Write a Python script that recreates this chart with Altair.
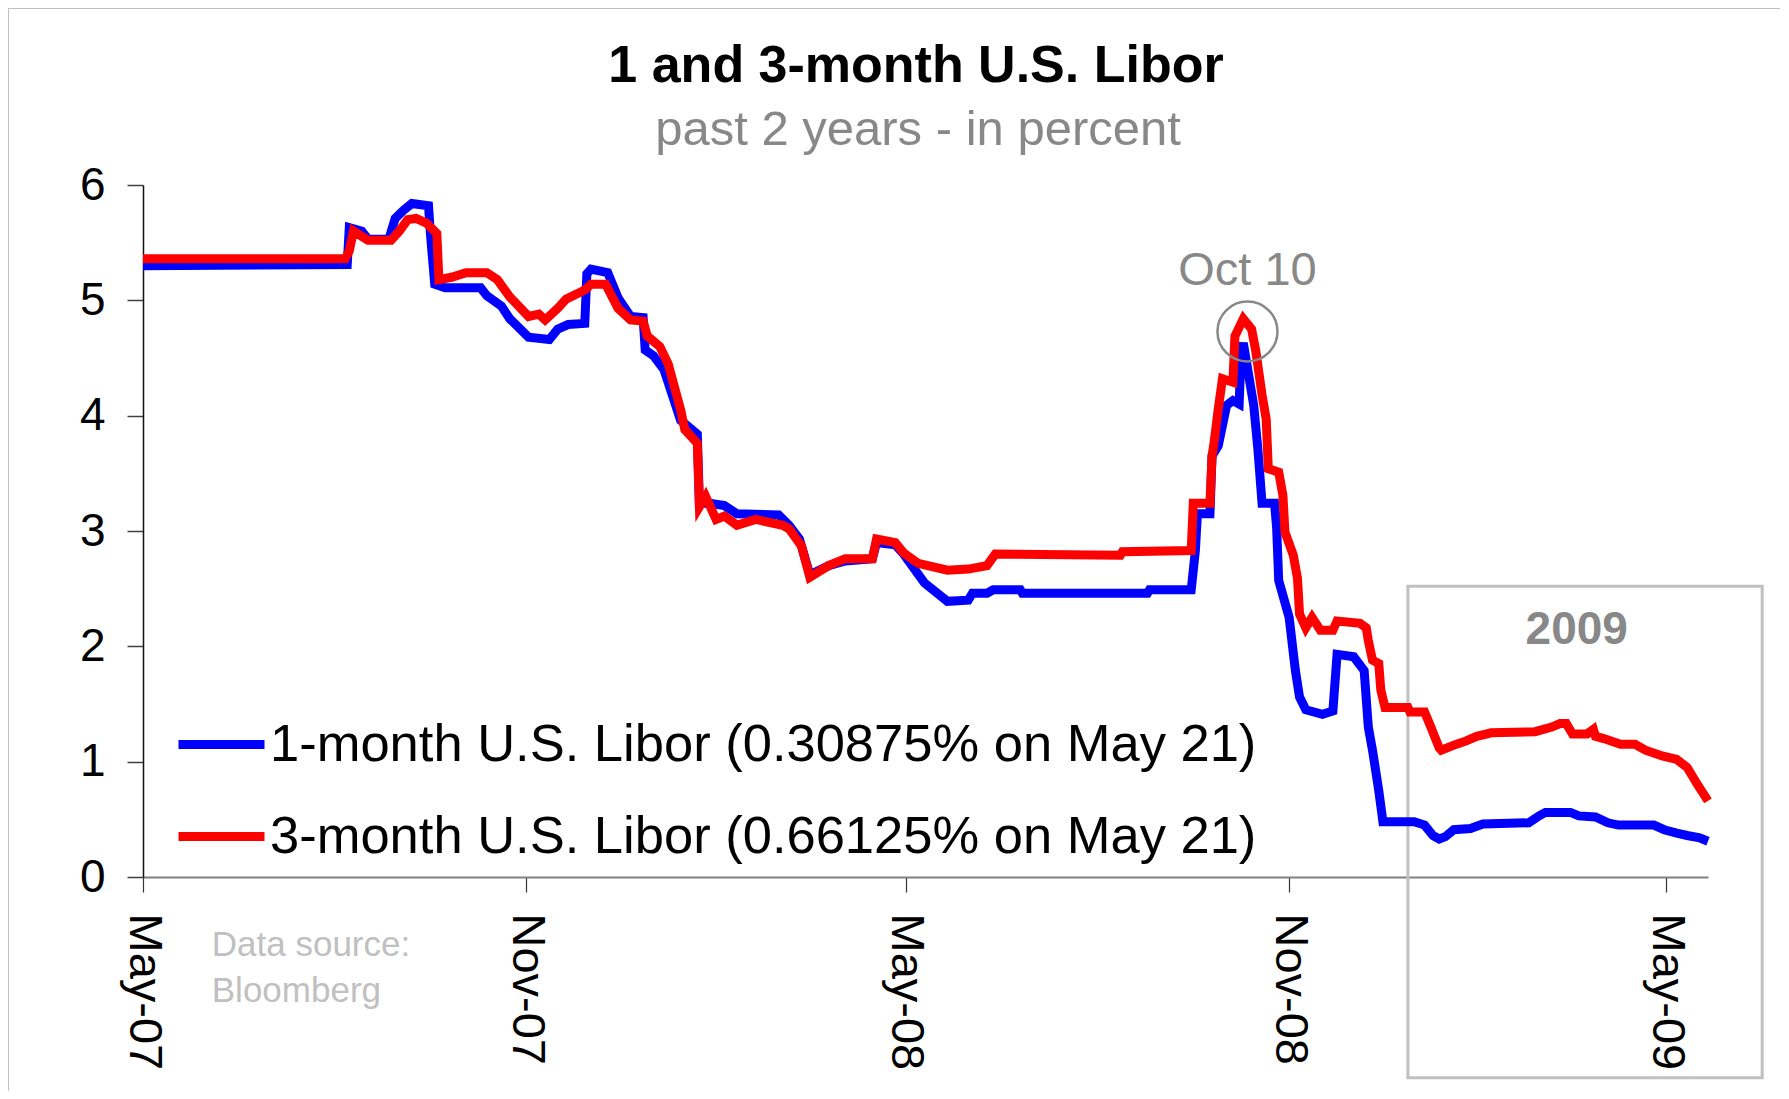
import altair as alt
import pandas as pd

# ---------------- data ----------------
SERIES_NAMES = [
    "1-month U.S. Libor (0.30875% on May 21)",
    "3-month U.S. Libor (0.66125% on May 21)",
]
SERIES_COLORS = ["#0000FF", "#FF0000"]

ONE_M_DATES = [
    "2007-05-01", "2007-08-07", "2007-08-08", "2007-08-14", "2007-08-17", "2007-08-27",
    "2007-08-30", "2007-09-03", "2007-09-07", "2007-09-15", "2007-09-16", "2007-09-18",
    "2007-09-23", "2007-10-10", "2007-10-13", "2007-10-20", "2007-10-24", "2007-11-02",
    "2007-11-12", "2007-11-16", "2007-11-21", "2007-11-29", "2007-11-30", "2007-12-02",
    "2007-12-10", "2007-12-15", "2007-12-21", "2007-12-27", "2007-12-28", "2008-01-01",
    "2008-01-06", "2008-01-14", "2008-01-22", "2008-01-23", "2008-01-28", "2008-02-04",
    "2008-02-10", "2008-03-01", "2008-03-06", "2008-03-11", "2008-03-16", "2008-03-25",
    "2008-04-02", "2008-04-15", "2008-04-17", "2008-04-26", "2008-04-30", "2008-05-10",
    "2008-05-21", "2008-05-31", "2008-06-02", "2008-06-09", "2008-06-12", "2008-06-25",
    "2008-06-26", "2008-08-25", "2008-08-26", "2008-09-15", "2008-09-17", "2008-09-18",
    "2008-09-24", "2008-09-25", "2008-09-28", "2008-10-02", "2008-10-05", "2008-10-08",
    "2008-10-09", "2008-10-10", "2008-10-15", "2008-10-17", "2008-10-19", "2008-10-25",
    "2008-10-26", "2008-10-27", "2008-11-01", "2008-11-04", "2008-11-06", "2008-11-09",
    "2008-11-17", "2008-11-22", "2008-11-24", "2008-12-02", "2008-12-07", "2008-12-09",
    "2008-12-11", "2008-12-14", "2008-12-16", "2008-12-31", "2009-01-05", "2009-01-09",
    "2009-01-12", "2009-01-15", "2009-01-19", "2009-01-27", "2009-02-02", "2009-02-24",
    "2009-03-01", "2009-03-04", "2009-03-16", "2009-03-20", "2009-03-28", "2009-04-03",
    "2009-04-08", "2009-04-25", "2009-04-30", "2009-05-06", "2009-05-11", "2009-05-17",
    "2009-05-21",
]
ONE_M_VALUES = [
    5.30, 5.31, 5.63, 5.60, 5.53, 5.53,
    5.71, 5.78, 5.84, 5.82, 5.56, 5.14,
    5.11, 5.11, 5.04, 4.95, 4.84, 4.68,
    4.66, 4.75, 4.79, 4.80, 5.23, 5.27,
    5.24, 5.02, 4.86, 4.85, 4.57, 4.52,
    4.40, 3.96, 3.84, 3.24, 3.24, 3.22,
    3.15, 3.14, 3.05, 2.93, 2.62, 2.70,
    2.74, 2.76, 2.90, 2.88, 2.80, 2.55,
    2.39, 2.40, 2.46, 2.46, 2.49, 2.49,
    2.46, 2.46, 2.49, 2.49, 2.83, 3.15,
    3.15, 3.65, 3.74, 4.09, 4.13, 4.10,
    4.56, 4.63, 4.09, 3.71, 3.24, 3.24,
    3.03, 2.57, 2.25, 1.79, 1.56, 1.45,
    1.41, 1.44, 1.93, 1.91, 1.79, 1.30,
    1.10, 0.75, 0.48, 0.48, 0.45, 0.36,
    0.33, 0.35, 0.41, 0.42, 0.46, 0.47,
    0.53, 0.56, 0.56, 0.53, 0.52, 0.47,
    0.45, 0.45, 0.41, 0.38, 0.36, 0.34,
    0.31,
]

THREE_M_DATES = [
    "2007-05-01", "2007-08-06", "2007-08-08", "2007-08-10", "2007-08-17", "2007-08-28",
    "2007-09-01", "2007-09-05", "2007-09-09", "2007-09-14", "2007-09-19", "2007-09-20",
    "2007-09-26", "2007-10-03", "2007-10-13", "2007-10-18", "2007-10-24", "2007-11-02",
    "2007-11-07", "2007-11-10", "2007-11-16", "2007-11-20", "2007-11-29", "2007-12-02",
    "2007-12-09", "2007-12-15", "2007-12-21", "2007-12-27", "2007-12-29", "2008-01-04",
    "2008-01-08", "2008-01-14", "2008-01-16", "2008-01-22", "2008-01-23", "2008-01-26",
    "2008-01-31", "2008-02-04", "2008-02-10", "2008-02-19", "2008-03-03", "2008-03-06",
    "2008-03-12", "2008-03-16", "2008-03-25", "2008-04-02", "2008-04-15", "2008-04-17",
    "2008-04-26", "2008-04-30", "2008-05-07", "2008-05-21", "2008-05-31", "2008-06-09",
    "2008-06-13", "2008-08-12", "2008-08-13", "2008-09-15", "2008-09-16", "2008-09-24",
    "2008-09-25", "2008-09-26", "2008-09-28", "2008-09-30", "2008-10-05", "2008-10-06",
    "2008-10-10", "2008-10-14", "2008-10-16", "2008-10-19", "2008-10-21", "2008-10-22",
    "2008-10-27", "2008-10-29", "2008-10-30", "2008-11-03", "2008-11-05", "2008-11-06",
    "2008-11-09", "2008-11-12", "2008-11-16", "2008-11-22", "2008-11-24", "2008-12-05",
    "2008-12-08", "2008-12-09", "2008-12-11", "2008-12-14", "2008-12-15", "2008-12-17",
    "2008-12-28", "2008-12-29", "2009-01-05", "2009-01-08", "2009-01-12", "2009-01-13",
    "2009-01-20", "2009-01-25", "2009-01-30", "2009-02-06", "2009-02-27", "2009-03-07",
    "2009-03-11", "2009-03-14", "2009-03-17", "2009-03-24", "2009-03-27", "2009-03-28",
    "2009-04-01", "2009-04-09", "2009-04-16", "2009-04-21", "2009-04-29", "2009-05-06",
    "2009-05-11", "2009-05-16", "2009-05-21",
]
THREE_M_VALUES = [
    5.36, 5.36, 5.43, 5.60, 5.52, 5.52,
    5.60, 5.70, 5.71, 5.67, 5.58, 5.18,
    5.20, 5.24, 5.24, 5.18, 5.03, 4.86,
    4.88, 4.83, 4.93, 5.01, 5.09, 5.14,
    5.14, 4.93, 4.83, 4.82, 4.69, 4.60,
    4.45, 4.05, 3.88, 3.76, 3.21, 3.30,
    3.10, 3.13, 3.05, 3.10, 3.05, 3.02,
    2.87, 2.60, 2.70, 2.76, 2.76, 2.93,
    2.90, 2.81, 2.72, 2.66, 2.67, 2.70,
    2.80, 2.79, 2.82, 2.83, 3.24, 3.24,
    3.65, 3.77, 4.06, 4.32, 4.29, 4.69,
    4.84, 4.75, 4.56, 4.18, 3.97, 3.54,
    3.51, 3.31, 2.99, 2.79, 2.59, 2.28,
    2.16, 2.25, 2.14, 2.14, 2.22, 2.20,
    2.16, 2.05, 1.88, 1.85, 1.62, 1.47,
    1.47, 1.43, 1.43, 1.30, 1.12, 1.10,
    1.15, 1.18, 1.22, 1.25, 1.26, 1.30,
    1.33, 1.33, 1.24, 1.24, 1.28, 1.22,
    1.20, 1.15, 1.15, 1.10, 1.05, 1.02,
    0.95, 0.80, 0.66,
]

X_DOMAIN = ["2007-05-01", "2009-05-21"]
X_TICKS = ["2007-05-01", "2007-11-01", "2008-05-01", "2008-11-01", "2009-05-01"]
Y_TICKS = [0, 1, 2, 3, 4, 5, 6]

TITLE = "1 and 3-month U.S. Libor"
SUBTITLE = "past 2 years - in percent"

# annotations
PEAK_DATE = ["2008-10-12"]
PEAK_LABEL = ["Oct 10"]
PEAK_LABEL_Y = [5.13]
PEAK_CIRCLE_Y = [4.73]
BOX_DATES = ["2008-12-28", "2009-06-16"]
BOX_VALUES = [2.52, -1.74]
BOX_LABEL = ["2009"]
BOX_LABEL_DATE = ["2009-03-19"]
BOX_LABEL_Y = [2.02]
SOURCE_TEXT = ["Data source:\nBloomberg"]
SOURCE_DATE = ["2007-06-03"]
SOURCE_Y = [-0.685]

FONT = "Liberation Sans"


def dt(s):
    y, m, d = (int(p) for p in s.split("-"))
    return alt.DateTime(year=y, month=m, date=d)


x_scale = alt.Scale(domain=[dt(X_DOMAIN[0]), dt(X_DOMAIN[1])])
y_scale = alt.Scale(domain=[0, 6], nice=False, zero=False)

one_df = pd.DataFrame({"date": pd.to_datetime(ONE_M_DATES), "value": ONE_M_VALUES,
                       "series": SERIES_NAMES[0]})
three_df = pd.DataFrame({"date": pd.to_datetime(THREE_M_DATES), "value": THREE_M_VALUES,
                         "series": SERIES_NAMES[1]})

x_axis = alt.Axis(
    values=[dt(t) for t in X_TICKS], format="%b-%y", labelAngle=90,
    labelAlign="left", labelBaseline="middle", labelFont=FONT, labelFontSize=47,
    labelColor="black", labelPadding=21, tickSize=15, tickColor="#333333",
    tickWidth=1.2, domainColor="#808080", domainWidth=2, grid=False, title=None,
    labelFlush=False, labelOverlap=False, labelBound=False,
)
y_axis = alt.Axis(
    values=Y_TICKS, format="d", labelFont=FONT, labelFontSize=46, labelColor="black",
    labelPadding=22, tickSize=16, tickColor="#404040", tickWidth=1.5,
    domainColor="#111111", domainWidth=1.5, grid=False, title=None,
)
legend = alt.Legend(
    title=None, orient="none", legendX=31, legendY=512, symbolType="stroke",
    symbolSize=7396, symbolStrokeWidth=9, labelFont=FONT, labelFontSize=52.5,
    labelColor="black", labelLimit=0, labelOffset=1, rowPadding=18, padding=0,
)
color = alt.Color("series:N", scale=alt.Scale(domain=SERIES_NAMES, range=SERIES_COLORS),
                  legend=legend)


def X(field):
    return alt.X(field, type="temporal", scale=x_scale, axis=x_axis)


def Y(field):
    return alt.Y(field, type="quantitative", scale=y_scale, axis=y_axis)


blue = alt.Chart(one_df).mark_line(strokeWidth=9, strokeJoin="miter").encode(
    x=X("date"), y=Y("value"), color=color,
)
red = alt.Chart(three_df).mark_line(strokeWidth=9, strokeJoin="miter").encode(
    x=X("date"), y=Y("value"), color=color,
)

one = pd.DataFrame({"k": [0]})
frame = alt.Chart(one).mark_rect(
    fill="white", fillOpacity=0, stroke="#c0c0c0", strokeWidth=3
).encode(
    x=alt.value(-135.5), x2=alt.value(1641), y=alt.value(-177.5), y2=alt.value(930)
)

title_txt = alt.Chart(pd.DataFrame({"t": [TITLE]})).mark_text(
    font=FONT, fontSize=52, fontWeight="bold", color="black", align="center",
    baseline="alphabetic"
).encode(x=alt.value(773), y=alt.value(-103), text="t:N")
subtitle_txt = alt.Chart(pd.DataFrame({"t": [SUBTITLE]})).mark_text(
    font=FONT, fontSize=49, color="#888888", align="center", baseline="alphabetic"
).encode(x=alt.value(775), y=alt.value(-40), text="t:N")

box_df = pd.DataFrame({"date": pd.to_datetime([BOX_DATES[0]]), "x2": pd.to_datetime([BOX_DATES[1]]),
                       "value": [BOX_VALUES[0]], "y2": [BOX_VALUES[1]]})
box = alt.Chart(box_df).mark_rect(
    fill="white", fillOpacity=0, stroke="#c0c0c0", strokeWidth=3
).encode(x=X("date"), x2="x2:T", y=Y("value"), y2="y2:Q")

box_lbl_df = pd.DataFrame({"date": pd.to_datetime(BOX_LABEL_DATE), "value": BOX_LABEL_Y,
                           "label": BOX_LABEL})
box_lbl = alt.Chart(box_lbl_df).mark_text(
    font=FONT, fontSize=46, fontWeight="bold", color="#888888", align="center",
    baseline="alphabetic"
).encode(x=X("date"), y=Y("value"), text="label:N")

peak_df = pd.DataFrame({"date": pd.to_datetime(PEAK_DATE), "value": PEAK_LABEL_Y,
                        "label": PEAK_LABEL})
peak_text = alt.Chart(peak_df).mark_text(
    font=FONT, fontSize=47, color="#888888", align="center", baseline="alphabetic"
).encode(x=X("date"), y=Y("value"), text="label:N")

circle_df = pd.DataFrame({"date": pd.to_datetime(PEAK_DATE), "value": PEAK_CIRCLE_Y})
peak_circle = alt.Chart(circle_df).mark_point(
    shape="circle", size=3600, filled=False, stroke="#888888", strokeWidth=2.5, opacity=1
).encode(x=X("date"), y=Y("value"))

src_df = pd.DataFrame({"date": pd.to_datetime(SOURCE_DATE), "value": SOURCE_Y,
                       "label": SOURCE_TEXT})
source = alt.Chart(src_df).mark_text(
    font=FONT, fontSize=35, color="#c0c0c0", align="left", baseline="alphabetic",
    lineBreak="\n", lineHeight=46
).encode(x=X("date"), y=Y("value"), text="label:N")

chart = alt.layer(
    frame, box, blue, red, peak_circle, peak_text, box_lbl, source, title_txt, subtitle_txt
).properties(
    width=1565, height=692,
    padding={"left": 135, "top": 177, "right": 72, "bottom": 214},
    autosize=alt.AutoSizeParams(type="none"),
).configure_view(strokeWidth=0)

chart.save("out.html", embed_options={"renderer": "svg", "actions": False})
